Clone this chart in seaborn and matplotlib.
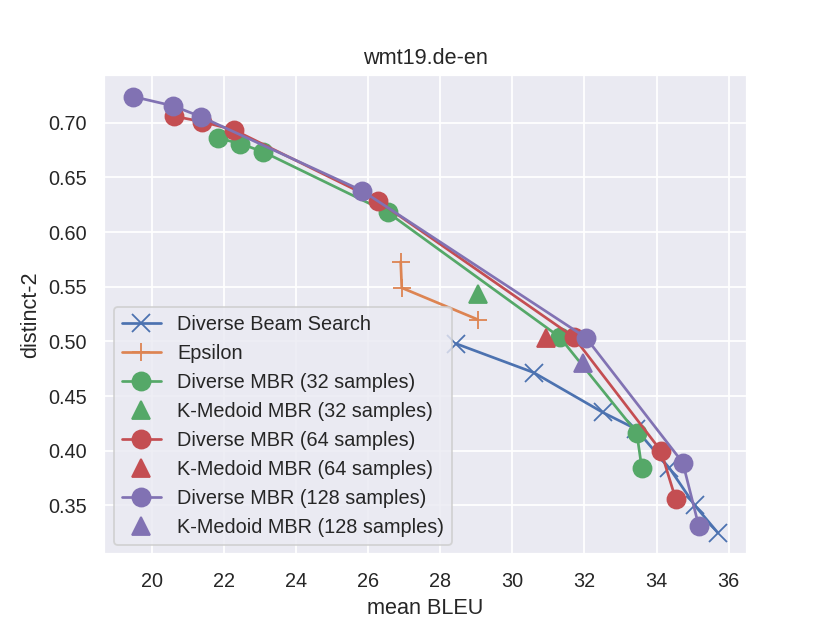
import matplotlib
matplotlib.use("Agg")
import matplotlib.pyplot as plt
import seaborn as sns

# values (mean BLEU, distinct-2)
dbs_bleu = [28.43, 30.59, 32.51, 33.42, 34.36, 35.06, 35.70]
dbs_dist = [0.498, 0.4715, 0.435, 0.420, 0.384, 0.350, 0.325]

eps_bleu = [26.90, 26.93, 29.04]
eps_dist = [0.573, 0.549, 0.520]

mbr32_bleu = [21.83, 22.44, 23.08, 26.54, 31.31, 33.45, 33.59]
mbr32_dist = [0.686, 0.681, 0.6735, 0.618, 0.504, 0.4165, 0.3845]

mbr64_bleu = [20.61, 21.39, 22.27, 26.27, 31.70, 34.12, 34.53]
mbr64_dist = [0.706, 0.701, 0.6935, 0.6285, 0.504, 0.400, 0.356]

mbr128_bleu = [19.47, 20.58, 21.36, 25.82, 32.04, 34.73, 35.17]
mbr128_dist = [0.724, 0.7155, 0.7055, 0.638, 0.5035, 0.389, 0.3315]

kmed_bleu = {"32": 29.04, "64": 30.93, "128": 31.95}
kmed_dist = {"32": 0.5435, "64": 0.503, "128": 0.480}

sns.set_theme(style="darkgrid")
plt.rcParams["font.family"] = ["Liberation Sans", "DejaVu Sans"]

pal = sns.color_palette("deep")
fig, ax = plt.subplots(figsize=(830 / 130, 623 / 130), dpi=130)

ms = 10

sns.lineplot(x=dbs_bleu, y=dbs_dist, sort=False, estimator=None, ax=ax,
             color=pal[0], marker="x", markersize=ms, mec=pal[0], mew=1,
             label="Diverse Beam Search")
sns.lineplot(x=eps_bleu, y=eps_dist, sort=False, estimator=None, ax=ax,
             color=pal[1], marker="+", markersize=ms, mec=pal[1], mew=1,
             label="Epsilon")

series = [("32", mbr32_bleu, mbr32_dist, pal[2]),
          ("64", mbr64_bleu, mbr64_dist, pal[3]),
          ("128", mbr128_bleu, mbr128_dist, pal[4])]

for n, xs, ys, c in series:
    sns.lineplot(x=xs, y=ys, sort=False, estimator=None, ax=ax, color=c,
                 marker="o", markersize=ms, mec=c, mew=1,
                 label="Diverse MBR ({} samples)".format(n))
    sns.lineplot(x=[kmed_bleu[n]], y=[kmed_dist[n]], ax=ax, color=c,
                 marker="^", markersize=ms, mec=c, mew=1, linestyle="",
                 label="K-Medoid MBR ({} samples)".format(n))

ax.set_xticks([20, 22, 24, 26, 28, 30, 32, 34, 36])
ax.set_yticks([0.35, 0.40, 0.45, 0.50, 0.55, 0.60, 0.65, 0.70])
ax.set_xlabel("mean BLEU")
ax.set_ylabel("distinct-2")
ax.set_title("wmt19.de-en")
ax.legend(loc="lower left")

fig.savefig("out.png")
